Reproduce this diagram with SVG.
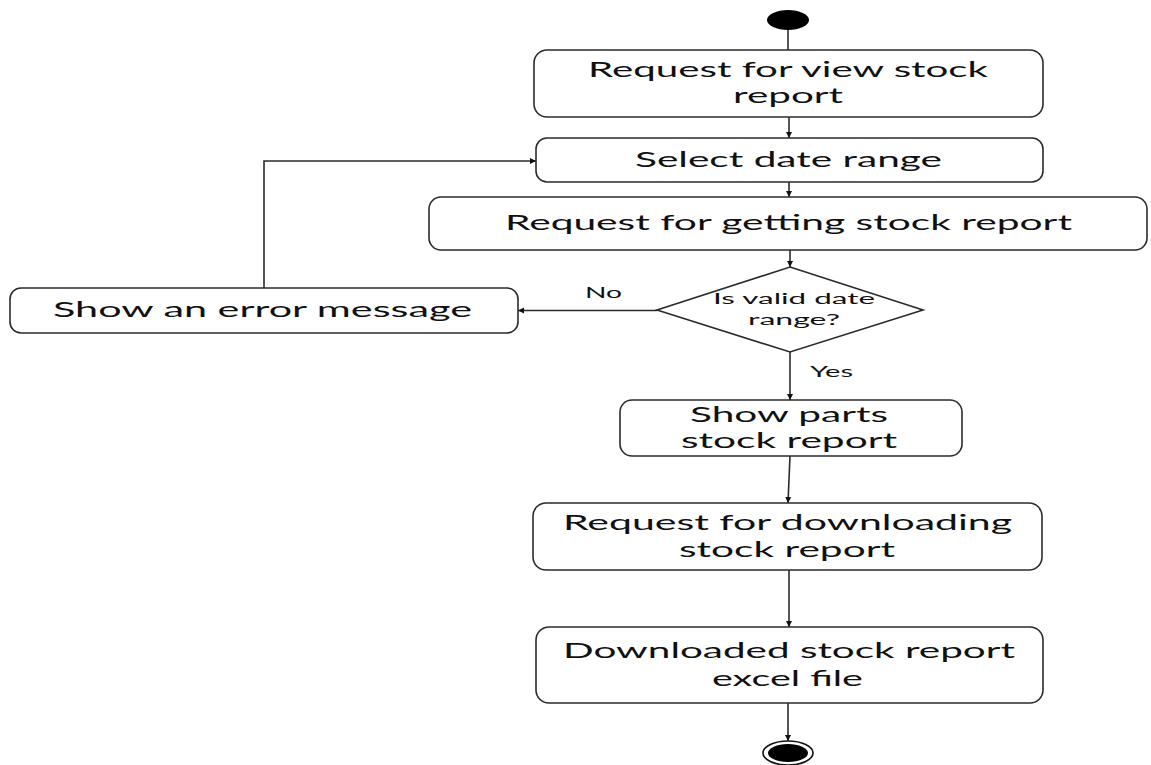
<svg xmlns="http://www.w3.org/2000/svg" width="1151" height="765" viewBox="0 0 1151 765">
<style>
.box{fill:#fff;stroke:#2b2b2b;stroke-width:1.6}
.t{font-family:Lato,"Liberation Sans",sans-serif;font-size:21.5px;fill:#111;text-anchor:middle}
.s{font-family:Lato,"Liberation Sans",sans-serif;font-size:15.5px;fill:#111;text-anchor:middle}
.c{fill:none;stroke:#2b2b2b;stroke-width:1.6}
</style>
<defs>
<marker id="ah" markerWidth="7" markerHeight="7" refX="6" refY="3.5" orient="auto" markerUnits="userSpaceOnUse">
<path d="M0,0.5 L6,3.5 L0,6.5 z" fill="#111"/>
</marker>
</defs>
<rect width="1151" height="765" fill="#fff"/>
<g id="connectors">
<line class="c" x1="788" y1="28" x2="788" y2="50"/>
<line class="c" x1="789" y1="117" x2="789" y2="138" marker-end="url(#ah)"/>
<line class="c" x1="789" y1="182" x2="789" y2="197" marker-end="url(#ah)"/>
<line class="c" x1="790" y1="250" x2="790" y2="267" marker-end="url(#ah)"/>
<line class="c" x1="657" y1="310.5" x2="518" y2="310.5" marker-end="url(#ah)"/>
<polyline class="c" points="264,288 264,161 536,161" marker-end="url(#ah)"/>
<line class="c" x1="790" y1="352" x2="790" y2="400" marker-end="url(#ah)"/>
<line class="c" x1="790" y1="456" x2="788" y2="503" marker-end="url(#ah)"/>
<line class="c" x1="789" y1="570" x2="789" y2="627" marker-end="url(#ah)"/>
<line class="c" x1="788" y1="703" x2="788" y2="741" marker-end="url(#ah)"/>
<text class="s" x="603.5" y="298" textLength="37" lengthAdjust="spacingAndGlyphs">No</text>
<text class="s" x="831.5" y="377" textLength="43" lengthAdjust="spacingAndGlyphs">Yes</text>
</g>
<g id="start">
<ellipse cx="788" cy="20" rx="21" ry="10" fill="#000"/>
</g>
<g id="n1">
<rect class="box" x="534" y="50" width="509" height="67" rx="13" ry="13"/>
<text class="t" x="788" y="77" textLength="400" lengthAdjust="spacingAndGlyphs">Request for view stock</text>
<text class="t" x="788" y="103" textLength="110" lengthAdjust="spacingAndGlyphs">report</text>
</g>
<g id="n2">
<rect class="box" x="536" y="138" width="507" height="44" rx="11" ry="11"/>
<text class="t" x="788.5" y="167" textLength="307" lengthAdjust="spacingAndGlyphs">Select date range</text>
</g>
<g id="n3">
<rect class="box" x="429" y="197" width="718" height="53" rx="12" ry="12"/>
<text class="t" x="788.5" y="230" textLength="567" lengthAdjust="spacingAndGlyphs">Request for getting stock report</text>
</g>
<g id="decision">
<polygon class="box" points="790,267 923,310 790,352 657,310"/>
<text class="s" x="794" y="304" textLength="162" lengthAdjust="spacingAndGlyphs">Is valid date</text>
<text class="s" x="794" y="325" textLength="92" lengthAdjust="spacingAndGlyphs">range?</text>
</g>
<g id="error">
<rect class="box" x="10" y="288" width="508" height="45" rx="11" ry="11"/>
<text class="t" x="262.5" y="317" textLength="419" lengthAdjust="spacingAndGlyphs">Show an error message</text>
</g>
<g id="n4">
<rect class="box" x="620" y="400" width="342" height="56" rx="12" ry="12"/>
<text class="t" x="789" y="422" textLength="198" lengthAdjust="spacingAndGlyphs">Show parts</text>
<text class="t" x="789" y="448" textLength="216" lengthAdjust="spacingAndGlyphs">stock report</text>
</g>
<g id="n5">
<rect class="box" x="533" y="503" width="509" height="67" rx="13" ry="13"/>
<text class="t" x="787.5" y="530" textLength="449" lengthAdjust="spacingAndGlyphs">Request for downloading</text>
<text class="t" x="787" y="557" textLength="216" lengthAdjust="spacingAndGlyphs">stock report</text>
</g>
<g id="n6">
<rect class="box" x="536" y="627" width="507" height="76" rx="13" ry="13"/>
<text class="t" x="789" y="658" textLength="452" lengthAdjust="spacingAndGlyphs">Downloaded stock report</text>
<text class="t" x="787.5" y="686" textLength="151" lengthAdjust="spacingAndGlyphs">excel file</text>
</g>
<g id="end">
<ellipse cx="788" cy="753" rx="25" ry="12" fill="#fff" stroke="#111" stroke-width="1.6"/>
<ellipse cx="788" cy="753" rx="20" ry="9" fill="#000"/>
</g>
</svg>
